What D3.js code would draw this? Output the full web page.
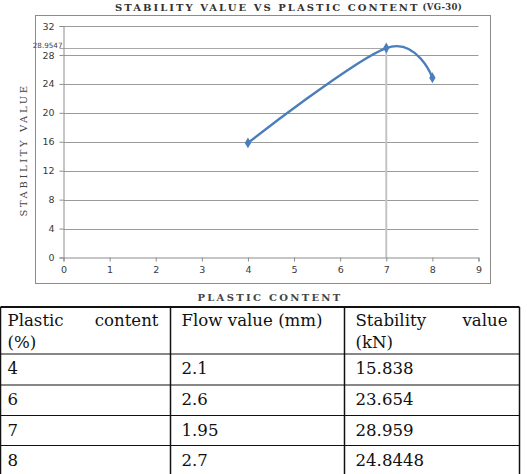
<!DOCTYPE html>
<html><head><meta charset="utf-8">
<script src="https://cdn.jsdelivr.net/npm/d3@7"></script>
<style>body{margin:0;background:#fff}svg{display:block}</style>
</head><body>
<script>
// Chart series (markers drawn in the reference)
const chartX = [4, 7, 8];
const chartY = [15.838, 28.9547, 24.8448];
const peakLabel = "28.9547";
const xTicks = [0,1,2,3,4,5,6,7,8,9];
const yTicks = [0,4,8,12,16,20,24,28,32];
// Table
const tableHeaders = [["Plastic","content","(%)"],["Flow value (mm)"],["Stability","value","(kN)"]];
const plasticContent = ["4","6","7","8"];
const flowValue = ["2.1","2.6","1.95","2.7"];
const stabilityValue = ["15.838","23.654","28.959","24.8448"];

const W = 527, H = 474;
const svg = d3.select("body").append("svg").attr("width", W).attr("height", H);

// chart border
svg.append("rect").attr("x",35.5).attr("y",15.5).attr("width",455).attr("height",268)
  .attr("fill","#fff").attr("stroke","#8c8c8c").attr("stroke-width",1);

const x = d3.scaleLinear().domain([0,9]).range([63.5,478.5]);
const y = d3.scaleLinear().domain([0,32]).range([257.5,26]);

// gridlines
svg.append("g").selectAll("line").data(yTicks.filter(d=>d>0)).join("line")
  .attr("x1",x(0)).attr("x2",x(9)).attr("y1",d=>Math.round(y(d))+0.5).attr("y2",d=>Math.round(y(d))+0.5)
  .attr("stroke","#9a9a9a").attr("stroke-width",1);

// drop lines
svg.append("line").attr("x1",x(7)).attr("x2",x(7)).attr("y1",y(0)).attr("y2",y(chartY[1]))
  .attr("stroke","#c4c4c4").attr("stroke-width",2);
svg.append("line").attr("x1",x(0)-4).attr("x2",x(7)).attr("y1",Math.round(y(chartY[1]))+0.5).attr("y2",Math.round(y(chartY[1]))+0.5)
  .attr("stroke","#a8a8a8").attr("stroke-width",1);

// axes
const yAxis = svg.append("g").attr("transform",`translate(${x(0)},0)`)
  .call(d3.axisLeft(y).tickValues(yTicks).tickSize(4).tickPadding(5));
const xAxis = svg.append("g").attr("transform",`translate(0,${y(0)})`)
  .call(d3.axisBottom(x).tickValues(xTicks).tickSize(4).tickPadding(5));
[yAxis,xAxis].forEach(g=>{
  g.select(".domain").attr("stroke","#8c8c8c");
  g.selectAll(".tick line").attr("stroke","#8c8c8c");
  g.selectAll("text").attr("fill","#3a3a3a").attr("font-family","DejaVu Sans, sans-serif").attr("font-size",9.5);
});
yAxis.selectAll(".tick").filter(d=>d===28).select("text").attr("dy","0.42em");

svg.append("text").attr("x",x(0)-1).attr("y",y(chartY[1])+0.3).attr("text-anchor","end")
  .attr("font-family","DejaVu Sans, sans-serif").attr("font-size",7.2).attr("fill","#444").text(peakLabel);

// series
const pts = chartX.map((d,i)=>[x(d),y(chartY[i])]);
svg.append("path").attr("d", d3.line().curve(d3.curveCardinal.tension(0))(pts))
  .attr("fill","none").attr("stroke","#4a7ebb").attr("stroke-width",2.4);
svg.append("g").selectAll("path").data(pts).join("path")
  .attr("transform",d=>`translate(${d[0]},${d[1]})`)
  .attr("d", d3.symbol(d3.symbolDiamond, 34)).attr("fill","#4a7ebb");

// titles
const serif = "DejaVu Serif, serif";
const t = svg.append("text").attr("x",115).attr("y",10.5).attr("text-anchor","start")
  .attr("font-family",serif).attr("fill","#333").attr("font-weight","bold");
t.append("tspan").attr("font-size",10).attr("letter-spacing",2.05).text("STABILITY VALUE VS PLASTIC CONTENT");
t.append("tspan").attr("font-size",8.5).attr("dx",3).attr("dy",-1).attr("letter-spacing",0.3).text("(VG-30)");

svg.append("text").attr("transform","translate(27,150) rotate(-90)").attr("text-anchor","middle")
  .attr("font-family",serif).attr("font-size",10).attr("letter-spacing",2.6).attr("fill","#444").text("STABILITY VALUE");

svg.append("text").attr("x",270).attr("y",300.5).attr("text-anchor","middle")
  .attr("font-family",serif).attr("font-weight","bold").attr("font-size",10).attr("letter-spacing",2.3).attr("fill","#444").text("PLASTIC CONTENT");

// table
const colX = [0.5, 170.5, 344.5, 519.5];
const rowY = [307, 354, 385, 415.5, 445.5, 476];
const tb = svg.append("g").attr("font-family","DejaVu Serif, serif").attr("font-size",16.6).attr("fill","#111");
tb.selectAll("line.h").data(rowY).join("line").attr("class","h")
  .attr("x1",colX[0]).attr("x2",colX[3]).attr("y1",d=>d).attr("y2",d=>d)
  .attr("stroke","#111").attr("stroke-width",(d,i)=>i===0?2:1.2);
tb.selectAll("line.v").data(colX).join("line").attr("class","v")
  .attr("x1",d=>d).attr("x2",d=>d).attr("y1",rowY[0]).attr("y2",H)
  .attr("stroke","#111").attr("stroke-width",1.5);
// header
const pad = 7;
tb.append("text").attr("x",colX[0]+pad).attr("y",326).text(tableHeaders[0][0]);
tb.append("text").attr("x",colX[1]-12).attr("y",326).attr("text-anchor","end").text(tableHeaders[0][1]);
tb.append("text").attr("x",colX[0]+pad).attr("y",348).text(tableHeaders[0][2]);
tb.append("text").attr("x",colX[1]+11).attr("y",326).text(tableHeaders[1][0]);
tb.append("text").attr("x",colX[2]+11).attr("y",326).text(tableHeaders[2][0]);
tb.append("text").attr("x",colX[3]-12).attr("y",326).attr("text-anchor","end").text(tableHeaders[2][1]);
tb.append("text").attr("x",colX[2]+11).attr("y",348).text(tableHeaders[2][2]);
const rowsBase = [374, 405, 436, 466];
plasticContent.forEach((d,i)=>{
  tb.append("text").attr("x",colX[0]+pad).attr("y",rowsBase[i]).text(d);
  tb.append("text").attr("x",colX[1]+11).attr("y",rowsBase[i]).text(flowValue[i]);
  tb.append("text").attr("x",colX[2]+11).attr("y",rowsBase[i]).text(stabilityValue[i]);
});
</script>
</body></html>
